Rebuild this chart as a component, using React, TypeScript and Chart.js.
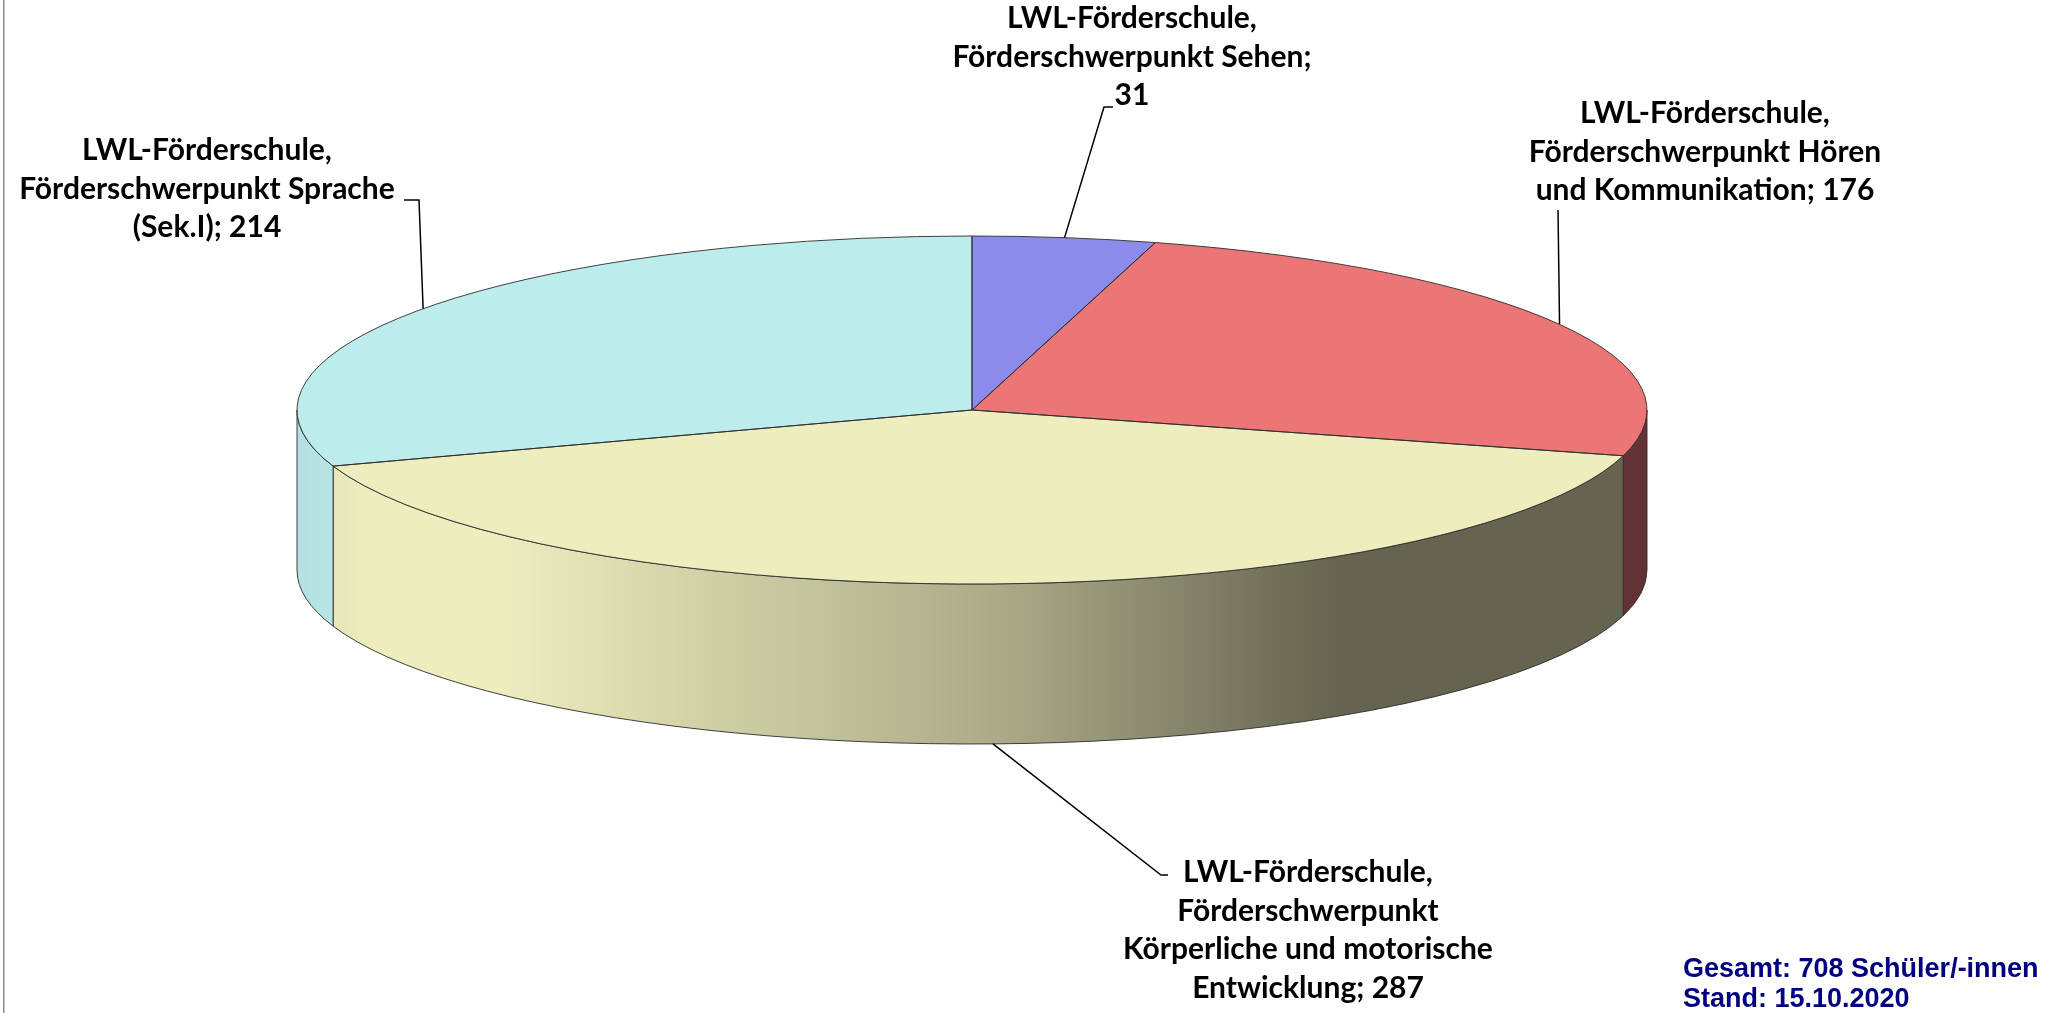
import React, { useEffect, useRef } from "react";
import { Chart, registerables } from "chart.js";

Chart.register(...registerables);

// ---- data ----
const categories: string[] = [
  "LWL-Förderschule,\nFörderschwerpunkt Sehen",
  "LWL-Förderschule,\nFörderschwerpunkt Hören\nund Kommunikation",
  "LWL-Förderschule,\nFörderschwerpunkt\nKörperliche und motorische\nEntwicklung",
  "LWL-Förderschule,\nFörderschwerpunkt Sprache\n(Sek.I)",
];
const values: number[] = [31, 176, 287, 214];
const sliceColors: string[] = ["#8B8BEB", "#EC7676", "#EDEDBE", "#BCECEC"];
const footerLabel = "Schüler/-innen";
const standDate = "15.10.2020";

// ---- layout / style ----
const W = 2064;
const H = 1013;
const RX = 675;
const RY = 174;
const DEPTH = 160;
const valueOwnLine = [true, false, false, false];
const LABEL_LAYOUT = [
  { cx: 1132, baseline: 28, leader: [[1104, 107], [1113, 107]] },
  { cx: 1705, baseline: 123, leader: [[1558, 210]] },
  { cx: 1308, baseline: 882, leader: [[1161, 875], [1168, 875]] },
  { cx: 207, baseline: 160, leader: [[419, 200], [404, 200]] },
];
const LABEL_FONT = "bold 30px Lato";
const LABEL_LINE_H = 38.7;
const SIDE_STOPS: [number, number][] = [
  [0, 0.95], [0.06, 1], [0.15, 1], [0.3, 0.88], [0.52, 0.72], [0.64, 0.58], [0.77, 0.42], [1, 0.42],
];
const EDGE = "rgba(45,45,45,0.9)";

function shade(hex: string, f: number) {
  const n = parseInt(hex.slice(1), 16);
  const r = Math.round(((n >> 16) & 255) * f);
  const g = Math.round(((n >> 8) & 255) * f);
  const b = Math.round((n & 255) * f);
  return `rgb(${r},${g},${b})`;
}

function labelLines(i: number): string[] {
  const parts = categories[i].split("\n");
  if (valueOwnLine[i]) {
    parts[parts.length - 1] += ";";
    parts.push(String(values[i]));
  } else {
    parts[parts.length - 1] += "; " + values[i];
  }
  return parts;
}

const pie3d = {
  id: "pie3d",
  beforeDatasetsDraw(chart: any) {
    const ctx: CanvasRenderingContext2D = chart.ctx;
    const arcs = chart.getDatasetMeta(0).data as any[];
    if (!arcs.length) return;
    const { x: cx, y: cy, outerRadius: R } = arcs[0];
    // side walls (front half)
    arcs.forEach((arc, i) => {
      const b0 = Math.max(arc.startAngle, 0);
      const b1 = Math.min(arc.endAngle, Math.PI);
      if (b1 <= b0) return;
      const grad = ctx.createLinearGradient(cx - RX, 0, cx + RX, 0);
      SIDE_STOPS.forEach(([p, f]) => grad.addColorStop(p, shade(sliceColors[i], f)));
      ctx.save();
      ctx.beginPath();
      ctx.moveTo(cx + RX * Math.cos(b0), cy + RY * Math.sin(b0));
      ctx.ellipse(cx, cy, RX, RY, 0, b0, b1);
      ctx.lineTo(cx + RX * Math.cos(b1), cy + DEPTH + RY * Math.sin(b1));
      ctx.ellipse(cx, cy + DEPTH, RX, RY, 0, b1, b0, true);
      ctx.closePath();
      ctx.fillStyle = grad;
      ctx.fill();
      ctx.strokeStyle = EDGE;
      ctx.lineWidth = 1;
      ctx.stroke();
      ctx.restore();
    });
    // squash the library's circular pie into the ellipse of the top face
    ctx.save();
    ctx.translate(cx, cy);
    ctx.scale(RX / R, RY / R);
    ctx.translate(-cx, -cy);
  },
  afterDatasetsDraw(chart: any) {
    const ctx: CanvasRenderingContext2D = chart.ctx;
    ctx.restore();
    const arcs = chart.getDatasetMeta(0).data as any[];
    if (!arcs.length) return;
    const { x: cx, y: cy } = arcs[0];
    // top face outlines
    ctx.save();
    ctx.strokeStyle = EDGE;
    ctx.lineWidth = 1;
    arcs.forEach((arc) => {
      ctx.beginPath();
      ctx.moveTo(cx, cy);
      ctx.lineTo(cx + RX * Math.cos(arc.startAngle), cy + RY * Math.sin(arc.startAngle));
      ctx.ellipse(cx, cy, RX, RY, 0, arc.startAngle, arc.endAngle);
      ctx.closePath();
      ctx.stroke();
    });
    ctx.restore();

    // labels + leader lines
    ctx.save();
    ctx.font = LABEL_FONT;
    ctx.fillStyle = "#000";
    ctx.textAlign = "center";
    ctx.textBaseline = "alphabetic";
    arcs.forEach((arc, i) => {
      const lay = LABEL_LAYOUT[i];
      const m = (arc.startAngle + arc.endAngle) / 2;
      let ax = cx + RX * Math.cos(m);
      let ay = cy + RY * Math.sin(m);
      if (Math.sin(m) > 0) ay += DEPTH;
      ctx.beginPath();
      ctx.moveTo(ax, ay);
      lay.leader.forEach(([px, py]) => ctx.lineTo(px, py));
      ctx.strokeStyle = "#000";
      ctx.lineWidth = 1.5;
      ctx.stroke();
      labelLines(i).forEach((t, k) => ctx.fillText(t, lay.cx, lay.baseline + k * LABEL_LINE_H));
    });
    ctx.restore();

    // footer
    const total = values.reduce((a, b) => a + b, 0);
    ctx.save();
    ctx.font = "bold 27px 'Liberation Sans', Arial, sans-serif";
    ctx.fillStyle = "#000080";
    ctx.textAlign = "left";
    ctx.fillText(`Gesamt: ${total} ${footerLabel}`, 1683, 977);
    ctx.fillText(`Stand: ${standDate}`, 1683, 1007);
    // left frame line
    ctx.fillStyle = "#8a8a8a";
    ctx.fillRect(3, 0, 1.5, H);
    ctx.restore();
  },
};

export default function App() {
  const ref = useRef<HTMLCanvasElement>(null);
  useEffect(() => {
    if (!ref.current) return;
    const chart = new Chart(ref.current, {
      type: "pie",
      data: {
        labels: categories,
        datasets: [
          {
            data: values,
            backgroundColor: sliceColors,
            borderWidth: 0,
            clip: false as any,
          },
        ],
      },
      options: {
        animation: false,
        responsive: false,
        maintainAspectRatio: false,
        events: [],
        layout: { padding: { left: 0, top: 0, right: 120, bottom: 193 } },
        plugins: { legend: { display: false }, tooltip: { enabled: false } },
      },
      plugins: [pie3d],
    } as any);
    return () => chart.destroy();
  }, []);
  return (
    <div style={{ position: "fixed", left: 0, top: 0, width: W, height: H, background: "#fff" }}>
      <canvas ref={ref} width={W} height={H} style={{ display: "block", width: W, height: H }} />
    </div>
  );
}
